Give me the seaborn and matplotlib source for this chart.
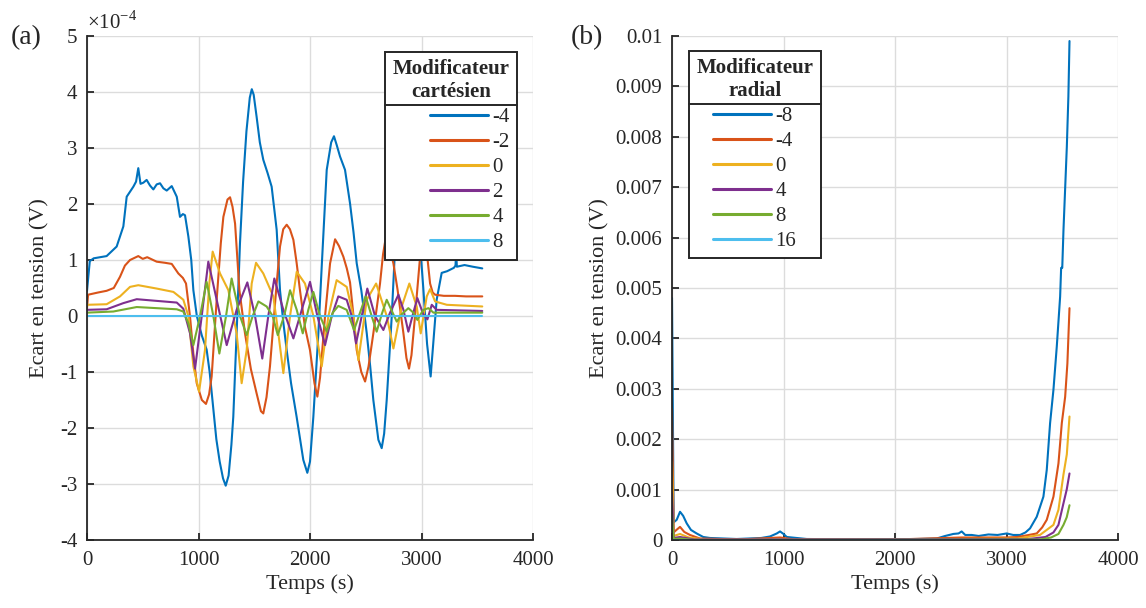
import matplotlib
matplotlib.use("Agg")
import matplotlib.pyplot as plt
import matplotlib.ticker as ticker
from matplotlib.lines import Line2D
import seaborn as sns
import pandas as pd

# ---- (a) modificateur cartesien, values in units of 1e-4 V ----
a_labels = ["-4", "-2", "0", "2", "4", "8"]

a_t_m4 = [0, 25, 60, 176, 266, 326, 356, 416, 440, 460, 480, 505, 535, 565, 595, 625, 655, 685, 715,
          760, 805, 834, 860, 879, 909, 935, 954, 985, 1030, 1073, 1100, 1130, 1160, 1190, 1220, 1244,
          1270, 1295, 1312, 1342, 1372, 1400, 1430, 1460, 1478, 1495, 1521, 1550, 1581, 1620, 1656,
          1680, 1701, 1731, 1760, 1791, 1830, 1880, 1940, 1976, 2000, 2030, 2075, 2105, 2150, 2190,
          2215, 2240, 2269, 2314, 2359, 2390, 2419, 2460, 2490, 2509, 2540, 2568, 2613, 2643, 2665,
          2688, 2733, 2762, 2800, 2870, 2940, 2990, 3016, 3050, 3082, 3105, 3136, 3181, 3230, 3290,
          3305, 3311, 3317, 3386, 3460, 3545]
a_v_m4 = [0.45, 0.98, 1.03, 1.07, 1.24, 1.6, 2.13, 2.31, 2.4, 2.64, 2.36, 2.38, 2.43, 2.33, 2.26, 2.35,
          2.37, 2.28, 2.24, 2.32, 2.13, 1.77, 1.82, 1.8, 1.42, 1.0, 0.46, 0.0, -0.35, -0.6, -1.0, -1.6,
          -2.2, -2.6, -2.9, -3.03, -2.85, -2.3, -1.8, -0.3, 1.3, 2.4, 3.3, 3.9, 4.05, 3.95, 3.56, 3.1,
          2.79, 2.55, 2.31, 1.9, 1.54, 0.46, -0.1, -0.61, -1.2, -1.8, -2.57, -2.8, -2.6, -1.8, -0.31,
          0.88, 2.61, 3.1, 3.21, 3.05, 2.85, 2.61, 2.01, 1.5, 0.94, 0.46, 0.0, -0.31, -0.9, -1.5, -2.21,
          -2.36, -2.1, -1.5, -0.01, 1.18, 1.8, 2.2, 1.9, 1.2, 0.5, -0.5, -1.08, -0.5, 0.29, 0.77, 0.8,
          0.86, 0.9, 1.15, 0.88, 0.91, 0.88, 0.85]

a_t_m2 = [0, 10, 100, 176, 240, 296, 340, 386, 460, 500, 540, 625, 700, 760, 819, 860, 888, 924, 955,
          984, 1030, 1067, 1095, 1118, 1163, 1200, 1223, 1260, 1283, 1305, 1328, 1367, 1417, 1470,
          1521, 1560, 1581, 1610, 1641, 1701, 1731, 1760, 1791, 1820, 1851, 1880, 1910, 1955, 2000,
          2040, 2066, 2090, 2135, 2180, 2225, 2260, 2299, 2330, 2359, 2390, 2419, 2460, 2494, 2525,
          2568, 2628, 2655, 2682, 2710, 2748, 2786, 2838, 2865, 2888, 2910, 2942, 2987, 3010, 3035,
          3055, 3077, 3100, 3122, 3200, 3300, 3400, 3545]
a_v_m2 = [0.15, 0.38, 0.42, 0.45, 0.5, 0.7, 0.9, 1.0, 1.07, 1.02, 1.05, 0.97, 0.95, 0.93, 0.76, 0.68,
          0.58, -0.01, -0.7, -1.2, -1.5, -1.57, -1.4, -1.08, 0.29, 1.3, 1.77, 2.08, 2.12, 1.95, 1.65,
          0.46, -0.31, -0.95, -1.38, -1.7, -1.74, -1.45, -0.9, 0.58, 1.24, 1.55, 1.63, 1.55, 1.36, 0.95,
          0.46, -0.2, -0.61, -1.2, -1.44, -1.1, 0.0, 0.94, 1.37, 1.25, 1.06, 0.85, 0.6, 0.0, -0.61,
          -1.0, -1.17, -0.9, -0.31, 0.58, 1.1, 1.43, 1.25, 0.94, 0.46, -0.31, -0.75, -0.94, -0.7, 0.0,
          1.05, 1.35, 1.42, 1.0, 0.58, 0.42, 0.38, 0.36, 0.36, 0.35, 0.35]

a_t_0 = [0, 176, 296, 386, 460, 625, 775, 864, 909, 954, 1005, 1058, 1097, 1127, 1193, 1268, 1342,
         1387, 1432, 1477, 1516, 1581, 1671, 1716, 1761, 1821, 1881, 1955, 2030, 2105, 2165, 2239,
         2329, 2389, 2434, 2509, 2593, 2688, 2748, 2823, 2891, 2957, 2993, 3047, 3077, 3122, 3227, 3545]
a_v_0 = [0.2, 0.21, 0.35, 0.52, 0.55, 0.49, 0.43, 0.29, 0.0, -0.9, -1.35, -0.61, 0.58, 1.15, 0.76,
         0.46, -0.31, -1.2, -0.61, 0.58, 0.95, 0.76, 0.35, -0.31, -1.02, 0.0, 0.79, 0.58, 0.0, -0.9,
         0.0, 0.64, 0.52, 0.0, -0.79, 0.29, 0.58, 0.0, -0.58, 0.17, 0.58, 0.17, -0.31, 0.35, 0.48,
         0.26, 0.2, 0.17]

a_t_2 = [0, 176, 326, 446, 625, 805, 864, 924, 969, 1029, 1088, 1163, 1253, 1342, 1438, 1507, 1572,
         1626, 1680, 1761, 1851, 1926, 2000, 2066, 2135, 2195, 2254, 2329, 2374, 2413, 2464, 2514,
         2583, 2658, 2718, 2793, 2838, 2882, 2927, 2963, 3016, 3053, 3092, 3136, 3545]
a_v_2 = [0.11, 0.12, 0.23, 0.3, 0.27, 0.24, 0.13, -0.31, -0.94, 0.0, 0.97, 0.29, -0.52, 0.11, 0.6,
         0.0, -0.76, 0.0, 0.67, 0.11, -0.4, 0.11, 0.61, 0.0, -0.52, 0.0, 0.35, 0.29, 0.0, -0.49, 0.0,
         0.49, 0.0, -0.25, 0.06, 0.38, 0.11, -0.28, 0.06, 0.32, 0.03, -0.06, 0.2, 0.11, 0.09]

a_t_4 = [0, 236, 446, 805, 864, 909, 954, 1014, 1073, 1133, 1187, 1247, 1297, 1372, 1432, 1486, 1537,
         1611, 1665, 1711, 1768, 1821, 1881, 1935, 1985, 2030, 2090, 2150, 2204, 2254, 2329, 2395,
         2449, 2499, 2553, 2598, 2643, 2688, 2748, 2778, 2823, 2882, 2927, 2963, 3016, 3062, 3107, 3545]
a_v_4 = [0.06, 0.08, 0.16, 0.12, 0.08, -0.13, -0.52, 0.0, 0.61, 0.0, -0.67, 0.0, 0.67, 0.0, -0.34,
         0.0, 0.26, 0.17, 0.0, -0.34, 0.0, 0.46, 0.11, -0.31, 0.11, 0.43, 0.0, -0.28, 0.06, 0.18, 0.11,
         -0.25, 0.06, 0.35, 0.0, -0.28, 0.03, 0.29, 0.03, -0.1, 0.03, 0.14, 0.06, -0.07, 0.11, 0.14,
         0.06, 0.06]

a_t_8 = [0, 3545]
a_v_8 = [0.0, 0.0]

# ---- (b) modificateur radial, values in V ----
b_labels = ["-8", "-4", "0", "4", "8", "16"]

b_t_m8 = [0, 15, 42, 72, 100, 132, 170, 221, 280, 341, 580, 800, 879, 940, 969, 1000, 1029, 1208,
          1805, 2200, 2374, 2450, 2523, 2570, 2598, 2630, 2688, 2750, 2838, 2920, 3002, 3060, 3122,
          3170, 3211, 3271, 3331, 3361, 3391, 3421, 3451, 3481, 3490, 3500, 3511, 3541, 3555, 3565]
b_v_m8 = [0.0048, 0.00035, 0.0004, 0.00056, 0.00048, 0.00033, 0.0002, 0.00013, 0.00006, 0.00004,
          0.00002, 0.00004, 0.00007, 0.00013, 0.00017, 0.00012, 0.00006, 0.00002, 0.00001, 0.00002,
          0.00003, 0.00008, 0.00012, 0.00013, 0.00017, 0.0001, 0.0001, 0.00008, 0.00011, 0.0001,
          0.00013, 0.0001, 0.0001, 0.00015, 0.00023, 0.00046, 0.00086, 0.00139, 0.00232, 0.00298,
          0.00384, 0.00483, 0.0054, 0.0054, 0.00615, 0.0078, 0.0088, 0.0099]

b_t_m4 = [0, 15, 40, 72, 110, 161, 250, 600, 969, 1100, 2000, 2600, 3000, 3100, 3200, 3271, 3320,
          3361, 3421, 3466, 3496, 3526, 3546, 3565]
b_v_m4 = [0.0026, 0.00015, 0.0002, 0.00026, 0.00016, 0.0001, 0.00003, 0.00001, 0.00005, 0.00001,
          0.00001, 0.00005, 0.00005, 0.00006, 0.0001, 0.00013, 0.00025, 0.0004, 0.00086, 0.00152,
          0.00232, 0.00284, 0.0035, 0.0046]

b_t_0 = [0, 15, 72, 150, 300, 2000, 3100, 3300, 3421, 3466, 3511, 3541, 3565]
b_v_0 = [0.00155, 0.00008, 0.00012, 0.00005, 0.00001, 0.00001, 0.00003, 0.0001, 0.0003, 0.0006,
         0.0013, 0.0017, 0.00245]

b_t_4 = [0, 15, 72, 200, 3200, 3350, 3421, 3466, 3511, 3540, 3565]
b_v_4 = [0.00093, 0.00004, 0.00006, 0.00001, 0.00002, 0.00006, 0.00015, 0.0003, 0.00073, 0.001, 0.00132]

b_t_8 = [0, 15, 72, 200, 3300, 3400, 3466, 3511, 3540, 3565]
b_v_8 = [0.0005, 0.00002, 0.00003, 0.0, 0.00001, 0.00005, 0.00012, 0.0003, 0.00045, 0.00069]

b_t_16 = [0, 3565]
b_v_16 = [0.0, 0.0]

colors = ["#0072BD", "#D95319", "#EDB120", "#7E2F8E", "#77AC30", "#4DBEEE"]


def long_form(series, labels):
    frames = []
    for (t, v), lab in zip(series, labels):
        frames.append(pd.DataFrame({"t": t, "v": v, "serie": lab}))
    return pd.concat(frames, ignore_index=True)


def add_legend(ax, labels, title, loc, anchor, align):
    handles = [Line2D([0], [0], color=c, lw=2.2) for c in colors]
    leg = ax.legend(handles, labels, title=title, loc=loc, bbox_to_anchor=anchor,
                    borderaxespad=0, fancybox=False, framealpha=1, fontsize=15,
                    title_fontsize=15, handlelength=2.8, handletextpad=0.2,
                    labelspacing=0.26, borderpad=0.35, alignment=align)
    leg.get_title().set_fontweight("bold")
    leg.get_title().set_multialignment("center")
    leg.get_frame().set_edgecolor("#262626")
    leg.get_frame().set_linewidth(1.4)
    return leg


def style_axes(ax):
    sns.despine(ax=ax)
    ax.grid(True, color="#dcdcdc", lw=1.0)
    ax.set_axisbelow(True)
    for s in ["left", "bottom"]:
        ax.spines[s].set_color("#262626")
        ax.spines[s].set_linewidth(1.3)
    ax.tick_params(direction="in", length=5, width=1.3, color="#262626",
                   labelsize=15, labelcolor="#262626")
    ax.tick_params(axis="x", pad=8)
    ax.tick_params(axis="y", pad=7)
    ax.set_xlim(0, 4000)
    ax.set_xticks([0, 1000, 2000, 3000, 4000])
    ax.set_xlabel("Temps (s)", fontsize=16, labelpad=3)
    ax.set_ylabel("Ecart en tension (V)", fontsize=16)


def plot_figure():
    sns.set_style("ticks")
    plt.rcParams["font.family"] = ["Liberation Serif", "DejaVu Serif"]
    plt.rcParams["mathtext.fontset"] = "custom"
    plt.rcParams["mathtext.rm"] = "Liberation Serif"
    plt.rcParams["axes.unicode_minus"] = False

    fig = plt.figure(figsize=(11.46, 6.08), dpi=100)
    ax1 = fig.add_axes([87 / 1146, 68 / 608, 446 / 1146, 504 / 608])
    ax2 = fig.add_axes([672 / 1146, 68 / 608, 446 / 1146, 504 / 608])

    da = long_form([(a_t_m4, a_v_m4), (a_t_m2, a_v_m2), (a_t_0, a_v_0),
                    (a_t_2, a_v_2), (a_t_4, a_v_4), (a_t_8, a_v_8)], a_labels)
    db = long_form([(b_t_m8, b_v_m8), (b_t_m4, b_v_m4), (b_t_0, b_v_0),
                    (b_t_4, b_v_4), (b_t_8, b_v_8), (b_t_16, b_v_16)], b_labels)

    sns.lineplot(data=da, x="t", y="v", hue="serie", hue_order=a_labels, palette=colors,
                 estimator=None, sort=False, lw=1.5, legend=False, ax=ax1)
    sns.lineplot(data=db, x="t", y="v", hue="serie", hue_order=b_labels, palette=colors,
                 estimator=None, sort=False, lw=1.5, legend=False, ax=ax2)

    style_axes(ax1)
    ax1.set_ylim(-4, 5)
    ax1.set_yticks(range(-4, 6))
    ax1.text(0.0, 1.005, r"$\times10^{-4}$", transform=ax1.transAxes, fontsize=15,
             ha="left", va="bottom", color="#262626")

    style_axes(ax2)
    ax2.set_ylim(0, 0.01)
    ax2.set_yticks([i / 1000 for i in range(11)])
    ax2.yaxis.set_major_formatter(ticker.FuncFormatter(lambda v, p: "%g" % round(v, 4)))
    ax1.yaxis.set_label_coords(-0.085, 0.5)
    ax2.yaxis.set_label_coords(-0.141, 0.5)

    leg1 = add_legend(ax1, a_labels, "Modificateur\ncartésien", "upper right",
                      (0.964, 0.968), "right")
    leg2 = add_legend(ax2, b_labels, "Modificateur\nradial", "upper left",
                      (0.038, 0.971), "center")

    fig.text(11 / 1146, 1 - 38 / 608, "(a)", fontsize=20, va="center", ha="left")
    fig.text(571 / 1146, 1 - 38 / 608, "(b)", fontsize=20, va="center", ha="left")

    # horizontal rule between legend title and entries
    fig.canvas.draw()
    r = fig.canvas.get_renderer()
    inv = fig.transFigure.inverted()
    for leg in [leg1, leg2]:
        fb = leg.get_frame().get_window_extent(r)
        tb = leg.get_title().get_window_extent(r)
        hb = leg._legend_handle_box.get_window_extent(r)
        y = (tb.y0 + hb.y1) / 2
        (x0, yy), (x1, _) = inv.transform([(fb.x0, y), (fb.x1, y)])
        fig.add_artist(Line2D([x0, x1], [yy, yy], color="#262626", lw=1.4,
                              transform=fig.transFigure))

    plt.savefig("out.png", dpi=100)


if __name__ == "__main__":
    plot_figure()
